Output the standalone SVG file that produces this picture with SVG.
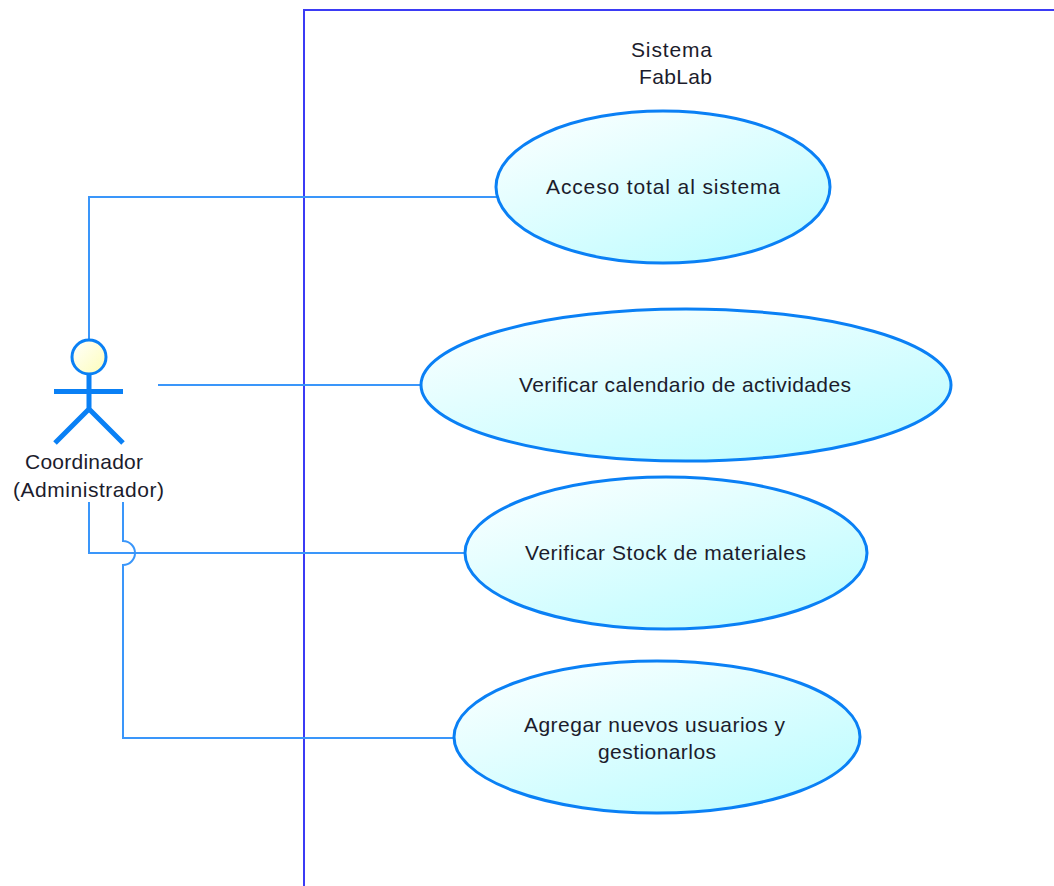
<svg xmlns="http://www.w3.org/2000/svg" width="1054" height="886" viewBox="0 0 1054 886">
<style>
.t{font-family:"Liberation Sans",Arial,sans-serif;font-size:21px;fill:#1c1c2c;text-anchor:middle}
.uc{fill:url(#g);stroke:#0a80f5;stroke-width:3}
.c{fill:none;stroke:#3a96fa;stroke-width:2}
.a{fill:none;stroke:#0a80f5;stroke-width:5}
</style>
<defs>
<linearGradient id="g" x1="0.15" y1="0.05" x2="0.85" y2="0.95"><stop offset="0" stop-color="#f8ffff"/><stop offset="1" stop-color="#bdfcff"/></linearGradient>
<linearGradient id="h" x1="0" y1="0" x2="1" y2="1"><stop offset="0" stop-color="#ffffff"/><stop offset="1" stop-color="#fdfdb8"/></linearGradient>
</defs>
<rect width="1054" height="886" fill="#fff"/>
<g id="boundary">
<path d="M304 886V10H1054" fill="none" stroke="#3b3bf5" stroke-width="2"/>
<text class="t" x="671.500" y="57" textLength="81" lengthAdjust="spacing">Sistema</text>
<text class="t" x="675.500" y="84" textLength="73" lengthAdjust="spacing">FabLab</text>
</g>
<g id="connectors">
<path class="c" d="M89 341V197H497"/>
<path class="c" d="M158 385H421"/>
<path class="c" d="M89 502V553H466"/>
<path class="c" d="M123 502V541A12 12 0 0 1 123 565V738H454"/>
</g>
<g id="actor">
<circle cx="89" cy="357" r="17" fill="url(#h)" stroke="#0a80f5" stroke-width="3"/>
<path class="a" d="M89 374V409M54 391.500H123M55 443L89 409L123 443"/>
<text class="t" x="84" y="469" textLength="118" lengthAdjust="spacing">Coordinador</text>
<text class="t" x="88.500" y="497" textLength="151" lengthAdjust="spacing">(Administrador)</text>
</g>
<g id="uc1">
<ellipse class="uc" cx="663" cy="187" rx="167" ry="76"/>
<text class="t" x="663" y="194" textLength="234" lengthAdjust="spacing">Acceso total al sistema</text>
</g>
<g id="uc2">
<ellipse class="uc" cx="686" cy="385" rx="265" ry="76"/>
<text class="t" x="685" y="392" textLength="332" lengthAdjust="spacing">Verificar calendario de actividades</text>
</g>
<g id="uc3">
<ellipse class="uc" cx="666" cy="553" rx="201" ry="76"/>
<text class="t" x="665.500" y="560" textLength="281" lengthAdjust="spacing">Verificar Stock de materiales</text>
</g>
<g id="uc4">
<ellipse class="uc" cx="657" cy="737" rx="203" ry="76"/>
<text class="t" x="654.500" y="732" textLength="261" lengthAdjust="spacing">Agregar nuevos usuarios y</text>
<text class="t" x="657" y="759" textLength="118" lengthAdjust="spacing">gestionarlos</text>
</g>
</svg>
